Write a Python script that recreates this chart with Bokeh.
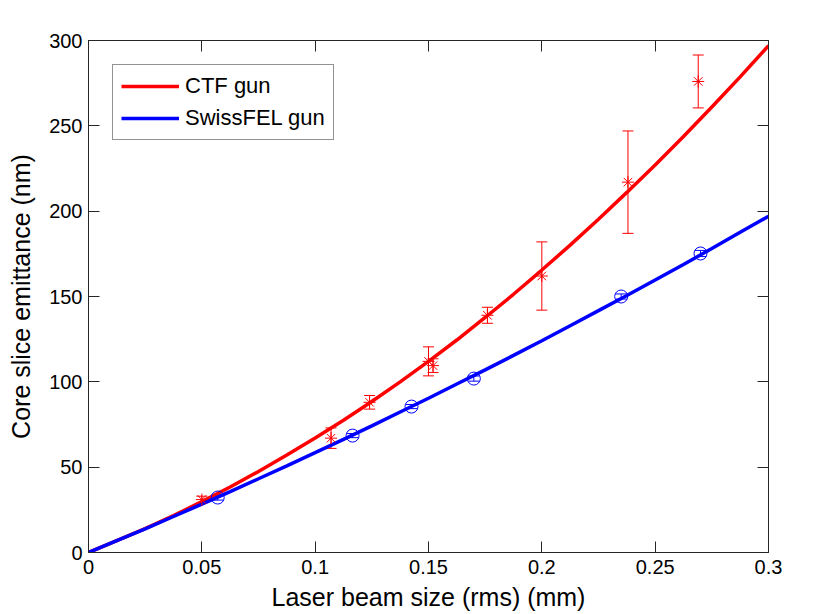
from bokeh.plotting import figure
from bokeh.models import (Range1d, LinearAxis, ColumnDataSource, Whisker, TeeHead,
                          Legend, LegendItem, FixedTicker)
from bokeh.embed import file_html
from bokeh.resources import INLINE

# ---------------- data ----------------
ctf_x = [0.050, 0.107, 0.124, 0.150, 0.152, 0.176, 0.200, 0.238, 0.269]
ctf_y = [31.0, 67.0, 88.0, 112.0, 109.5, 139.0, 162.0, 217.0, 276.0]
ctf_err = [2.0, 6.0, 4.0, 8.5, 4.0, 4.7, 20.0, 30.0, 15.5]

sfel_x = [0.057, 0.1165, 0.1425, 0.170, 0.235, 0.270]
sfel_y = [32.2, 68.5, 85.5, 101.9, 150.0, 175.2]
sfel_err = [1.5, 1.2, 1.2, 1.5, 1.5, 1.8]

curve_x = [0.0, 0.0125, 0.025, 0.0375, 0.05, 0.0625, 0.075, 0.0875, 0.1, 0.1125,
           0.125, 0.1375, 0.15, 0.1625, 0.175, 0.1875, 0.2, 0.2125, 0.225, 0.2375,
           0.25, 0.2625, 0.275, 0.2875, 0.3]
ctf_curve = [0.0, 6.9, 14.0, 21.6, 29.8, 38.4, 47.5, 57.1, 67.1, 77.5,
             88.5, 100.0, 112.0, 124.5, 137.7, 151.3, 165.5, 180.1, 195.3, 211.0,
             227.1, 243.8, 261.0, 278.7, 297.0]
sfel_curve = [0.0, 6.9, 13.9, 21.1, 28.3, 35.7, 43.2, 50.8, 58.5, 66.3,
              74.2, 82.3, 90.4, 98.7, 107.0, 115.5, 124.1, 132.9, 141.7, 150.6,
              159.7, 168.8, 178.1, 187.6, 197.0]

x_ticks = [0, 0.05, 0.1, 0.15, 0.2, 0.25, 0.3]
x_tick_labels = ["0", "0.05", "0.1", "0.15", "0.2", "0.25", "0.3"]
y_ticks = [0, 50, 100, 150, 200, 250, 300]
y_tick_labels = ["0", "50", "100", "150", "200", "250", "300"]

legend_labels = ["CTF gun", "SwissFEL gun"]
RED = "#FF0000"
BLUE = "#0000FF"
AX = "#262626"
FONT = "Liberation Sans"

p = figure(width=822, height=613, output_backend="svg", toolbar_location=None,
           x_range=Range1d(0, 0.3), y_range=Range1d(0, 300),
           min_border_left=88, min_border_right=54, min_border_top=40, min_border_bottom=61)
p.xgrid.visible = False
p.ygrid.visible = False
p.outline_line_color = AX
p.background_fill_color = "white"
p.border_fill_color = "white"

def style_axis(ax, ticks, labels, show_labels=True):
    ax.ticker = FixedTicker(ticks=ticks)
    if show_labels:
        ax.major_label_overrides = {t: l for t, l in zip(ticks, labels)}
    else:
        ax.major_label_overrides = {t: "" for t in ticks}
    ax.axis_line_color = AX
    ax.major_tick_line_color = AX
    ax.major_tick_in = 11
    ax.major_tick_out = 0
    ax.minor_tick_line_color = None
    ax.major_label_text_font = FONT
    ax.major_label_text_color = "black"
    ax.major_label_text_font_size = "20px"
    ax.axis_label_text_font = FONT
    ax.axis_label_text_font_style = "normal"
    ax.axis_label_text_font_size = "25px"
    ax.axis_label_text_color = "black"

style_axis(p.xaxis[0], x_ticks, x_tick_labels)
style_axis(p.yaxis[0], y_ticks, y_tick_labels)
p.xaxis[0].axis_label = "Laser beam size (rms) (mm)"
p.yaxis[0].axis_label = "Core slice emittance (nm)"
p.xaxis[0].major_label_standoff = 7
p.xaxis[0].axis_label_standoff = 6
p.yaxis[0].major_label_standoff = 6
p.yaxis[0].axis_label_standoff = 11

top = LinearAxis()
style_axis(top, x_ticks, x_tick_labels, show_labels=False)
p.add_layout(top, "above")
right = LinearAxis()
style_axis(right, y_ticks, y_tick_labels, show_labels=False)
p.add_layout(right, "right")

# fitted curves
r_ctf = p.line(curve_x, ctf_curve, line_color=RED, line_width=3.5)
r_sfel = p.line(curve_x, sfel_curve, line_color=BLUE, line_width=3.5)

# error bars
src_ctf = ColumnDataSource(dict(x=ctf_x, y=ctf_y,
                                lo=[y - e for y, e in zip(ctf_y, ctf_err)],
                                hi=[y + e for y, e in zip(ctf_y, ctf_err)]))
src_sfel = ColumnDataSource(dict(x=sfel_x, y=sfel_y,
                                 lo=[y - e for y, e in zip(sfel_y, sfel_err)],
                                 hi=[y + e for y, e in zip(sfel_y, sfel_err)]))
w1 = Whisker(base="x", upper="hi", lower="lo", source=src_ctf, dimension="height",
             line_color=RED, line_width=1,
             upper_head=TeeHead(size=11, line_color=RED, line_width=1),
             lower_head=TeeHead(size=11, line_color=RED, line_width=1))
w2 = Whisker(base="x", upper="hi", lower="lo", source=src_sfel, dimension="height",
             line_color=BLUE, line_width=1,
             upper_head=TeeHead(size=11, line_color=BLUE, line_width=1),
             lower_head=TeeHead(size=11, line_color=BLUE, line_width=1))
p.add_layout(w1)
p.add_layout(w2)

p.scatter("x", "y", source=src_ctf, marker="asterisk", size=12, line_color=RED, line_width=1)
p.scatter("x", "y", source=src_sfel, marker="circle", size=13, line_color=BLUE,
          fill_color=None, line_width=1)

legend = Legend(items=[LegendItem(label=legend_labels[0], renderers=[r_ctf]),
                       LegendItem(label=legend_labels[1], renderers=[r_sfel])],
                location="top_left", margin=24, padding=8, spacing=6,
                glyph_width=58, glyph_height=22, label_height=22, label_standoff=6,
                label_text_font=FONT, label_text_font_size="22px",
                label_text_color="black",
                border_line_color=AX, border_line_width=1,
                background_fill_color="white", background_fill_alpha=1.0)
p.add_layout(legend)

open("out.html", "w").write(file_html(p, INLINE))
